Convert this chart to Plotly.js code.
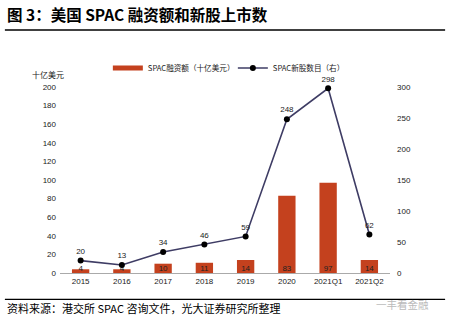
<!DOCTYPE html>
<html>
<head>
<meta charset="utf-8">
<script src="https://cdn.plot.ly/plotly-3.0.1.min.js"></script>
<style>html,body{margin:0;padding:0;background:#fff;}#chart{width:453px;height:324px;}</style>
</head>
<body>
<div id="chart"></div>
<script>
const categories = ["2015","2016","2017","2018","2019","2020","2021Q1","2021Q2"];
const fundraising = [4, 4, 10, 11, 14, 83, 97, 14];
const ipoCount = [20, 13, 34, 46, 59, 248, 298, 62];
const leftTicks = [0,20,40,60,80,100,120,140,160,180,200];
const rightTicks = [0,50,100,150,200,250,300];
const barName = 'SPAC融资额（十亿美元）';
const lineName = 'SPAC新股数目（右）';

const cjk = '"Noto Sans CJK SC", "Liberation Sans", Arial, sans-serif';
const num = '"Liberation Sans", Arial, sans-serif';
const barColor = '#C4411E';

const traces = [
  {
    type: 'bar', name: barName, showlegend: false,
    x: categories, y: fundraising, yaxis: 'y',
    marker: {color: barColor}, width: 0.42,
    hoverinfo: 'skip'
  },
  {
    // bar value labels sitting on the base of each bar
    type: 'scatter', mode: 'text', showlegend: false,
    x: categories, y: fundraising.map(() => 0), yaxis: 'y',
    text: fundraising.map(String), textposition: 'top center',
    textfont: {family: num, size: 8, color: '#222'},
    cliponaxis: false, hoverinfo: 'skip'
  },
  {
    // legend proxy for the bars (flat wide swatch)
    type: 'scatter', mode: 'lines', name: barName, legendrank: 1,
    x: [null], y: [null], yaxis: 'y',
    line: {color: barColor, width: 5}, hoverinfo: 'skip'
  },
  {
    type: 'scatter', mode: 'lines+markers+text', name: lineName, legendrank: 2,
    x: categories, y: ipoCount, yaxis: 'y2',
    line: {color: '#3E3C64', width: 1.6},
    marker: {color: '#000', size: 6},
    text: ipoCount.map(String), textposition: 'top center',
    textfont: {family: num, size: 8, color: '#222'},
    cliponaxis: false, hoverinfo: 'skip'
  }
];

const layout = {
  width: 453, height: 324,
  margin: {l: 60, r: 63, t: 87, b: 51},
  paper_bgcolor: '#fff', plot_bgcolor: '#fff',
  showlegend: true,
  legend: {orientation: 'h', x: 0.145, y: 1.102, xanchor: 'left', yanchor: 'middle',
    font: {family: cjk, size: 7.6, color: '#222'}, itemwidth: 30, tracegroupgap: 0,
    entrywidth: 80, entrywidthmode: 'pixels',
    bgcolor: 'rgba(0,0,0,0)'},
  xaxis: {type: 'category', showgrid: false, showline: true, linecolor: '#AAAAAA', linewidth: 1,
    ticks: '', tickfont: {family: num, size: 8, color: '#222'}, zeroline: false, fixedrange: true},
  yaxis: {range: [0, 200], tickvals: leftTicks, showgrid: false, showline: false, zeroline: false,
    ticks: '', ticklabelstandoff: 3, tickfont: {family: num, size: 8, color: '#222'}, fixedrange: true},
  yaxis2: {range: [0, 300], tickvals: rightTicks, overlaying: 'y', side: 'right', showgrid: false,
    showline: false, zeroline: false, ticks: '', ticklabelstandoff: 6,
    tickfont: {family: num, size: 8, color: '#222'}, fixedrange: true},
  shapes: [
    {type: 'line', xref: 'paper', yref: 'paper', x0: -0.167, x1: 1.167, y0: 1.306, y1: 1.306,
      line: {color: '#000', width: 1.5}},
    {type: 'line', xref: 'paper', yref: 'paper', x0: -0.167, x1: 1.167, y0: -0.142, y1: -0.142,
      line: {color: '#000', width: 1.2}}
  ],
  annotations: [
    {text: '<b>图 3：美国 SPAC 融资额和新股上市数</b>', xref: 'paper', yref: 'paper',
      x: -0.167, y: 1.392, xanchor: 'left', yanchor: 'middle', showarrow: false,
      font: {family: cjk, size: 15.5, color: '#000'}},
    {text: '十亿美元', xref: 'paper', yref: 'paper', x: -0.036, y: 1.065,
      xanchor: 'center', yanchor: 'middle', showarrow: false,
      font: {family: cjk, size: 8, color: '#222'}},
    {text: '资料来源：港交所 SPAC 咨询文件，光大证券研究所整理', xref: 'paper', yref: 'paper',
      x: -0.167, y: -0.188, xanchor: 'left', yanchor: 'middle', showarrow: false,
      font: {family: cjk, size: 11, color: '#000'}},
    {text: '一丰看金融', xref: 'paper', yref: 'paper', x: 1.125, y: -0.168,
      xanchor: 'right', yanchor: 'middle', showarrow: false,
      font: {family: cjk, size: 10.5, color: '#BBBBBB'}}
  ]
};

Plotly.newPlot('chart', traces, layout, {displayModeBar: false, staticPlot: true});
</script>
</body>
</html>
